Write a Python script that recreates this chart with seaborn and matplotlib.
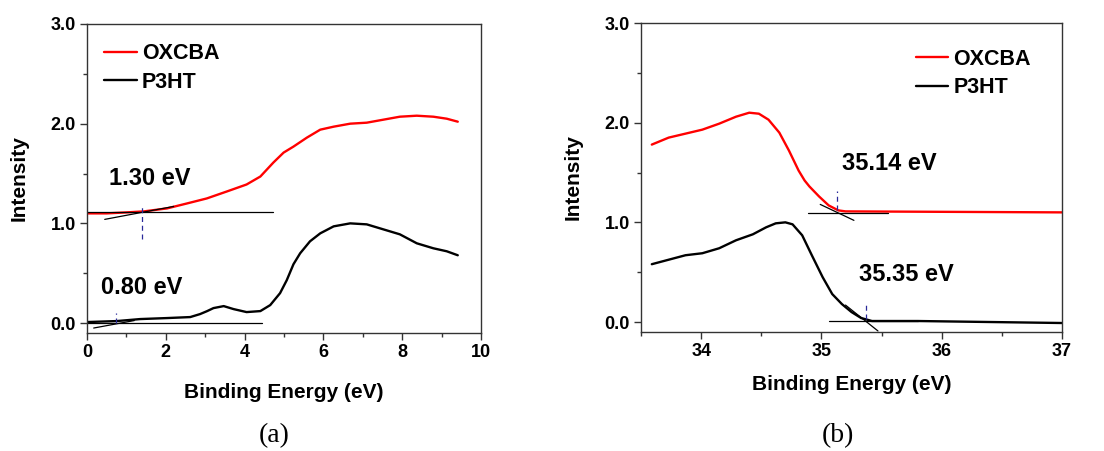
import pandas as pd
import seaborn as sns
import matplotlib.pyplot as plt

# (a) 左图数据：结合能 0-10 eV
a_oxcba_x = [0.0, 0.5, 1.0, 1.44, 2.03, 2.54, 3.04, 3.55, 4.05, 4.40, 4.73, 4.99, 5.24, 5.58, 5.92,
             6.26, 6.68, 7.10, 7.52, 7.94, 8.37, 8.79, 9.13, 9.41]
a_oxcba_y = [1.10, 1.10, 1.11, 1.12, 1.15, 1.20, 1.25, 1.32, 1.39, 1.47, 1.61, 1.71, 1.77, 1.86, 1.94,
             1.97, 2.00, 2.01, 2.04, 2.07, 2.08, 2.07, 2.05, 2.02]
a_p3ht_x = [0.0, 0.76, 1.35, 2.03, 2.62, 2.87, 3.05, 3.21, 3.47, 3.72, 4.05, 4.40, 4.65, 4.90, 5.07,
            5.24, 5.41, 5.66, 5.92, 6.26, 6.68, 7.10, 7.52, 7.94, 8.37, 8.79, 9.13, 9.41]
a_p3ht_y = [0.01, 0.02, 0.04, 0.05, 0.06, 0.09, 0.12, 0.15, 0.17, 0.14, 0.11, 0.12, 0.18, 0.30, 0.43,
            0.59, 0.70, 0.82, 0.90, 0.97, 1.00, 0.99, 0.94, 0.89, 0.80, 0.75, 0.72, 0.68]

# (b) 右图数据：结合能 33.5-37 eV
b_oxcba_x = [33.59, 33.73, 33.87, 34.01, 34.15, 34.29, 34.40, 34.48, 34.56, 34.65, 34.73, 34.81,
             34.86, 34.90, 34.98, 35.06, 35.14, 35.20, 37.0]
b_oxcba_y = [1.78, 1.85, 1.89, 1.93, 1.99, 2.06, 2.10, 2.09, 2.03, 1.90, 1.72, 1.52,
             1.42, 1.36, 1.26, 1.17, 1.12, 1.11, 1.10]
b_p3ht_x = [33.59, 33.87, 34.01, 34.15, 34.29, 34.43, 34.54, 34.62, 34.70, 34.76, 34.84, 34.92,
            35.01, 35.09, 35.17, 35.25, 35.33, 35.42, 35.80, 37.0]
b_p3ht_y = [0.58, 0.67, 0.69, 0.74, 0.82, 0.88, 0.95, 0.99, 1.00, 0.98, 0.87, 0.67,
            0.45, 0.28, 0.18, 0.10, 0.04, 0.01, 0.01, -0.01]

# 切线外推（起点, 终点）
a_fits = [((0.0, 1.11), (4.72, 1.11)), ((0.45, 1.04), (2.2, 1.17)),
          ((0.0, 0.0), (4.44, 0.0)), ((0.17, -0.05), (1.2, 0.025))]
b_fits = [((34.89, 1.09), (35.55, 1.09)), ((34.99, 1.18), (35.27, 1.02)),
          ((35.06, 0.01), (35.80, 0.01)), ((35.20, 0.17), (35.47, -0.09))]
# 蓝色虚线标记
a_marks = [(1.39, 0.84, 1.17), (0.74, 0.0, 0.10)]
b_marks = [(35.13, 1.12, 1.31), (35.37, 0.03, 0.20)]
# 标注文字
a_notes = [("1.30 eV", 0.57, 1.45), ("0.80 eV", 0.36, 0.36)]
b_notes = [("35.14 eV", 35.17, 1.59), ("35.35 eV", 35.31, 0.48)]

sns.set_theme(style="ticks")
plt.rcParams['font.family'] = ['Liberation Sans', 'DejaVu Sans']
plt.rcParams['font.weight'] = 'bold'
plt.rcParams['text.color'] = 'black'
plt.rcParams['axes.labelcolor'] = 'black'
plt.rcParams['xtick.color'] = 'black'
plt.rcParams['ytick.color'] = 'black'
plt.rcParams['xtick.direction'] = 'out'
plt.rcParams['ytick.direction'] = 'out'

fig = plt.figure(figsize=(11.04, 4.51), dpi=100)
ax1 = fig.add_axes([0.0788, 0.2616, 0.3569, 0.6852])
ax2 = fig.add_axes([0.5806, 0.2639, 0.3814, 0.6851])


def draw_panel(ax, ox_x, ox_y, p_x, p_y, fits, marks, notes, xlim, xticks, xminor, leg_anchor,
               tag, tag_x, xpad):
    sns.lineplot(x=ox_x, y=ox_y, ax=ax, color='#ff0000', lw=1.7, label='OXCBA', sort=False)
    sns.lineplot(x=p_x, y=p_y, ax=ax, color='black', lw=1.7, label='P3HT', sort=False)
    for (x0, y0), (x1, y1) in fits:
        ax.plot([x0, x1], [y0, y1], color='black', lw=0.9)
    for xm, y0, y1 in marks:
        ax.plot([xm, xm], [y0, y1], color='#2a2a9a', lw=0.9, ls=(0, (4, 3)))
    for txt, xt, yt in notes:
        ax.text(xt, yt, txt, fontsize=17, fontweight='bold', va='center', ha='left')
    ax.set_xlim(*xlim)
    ax.set_ylim(-0.1, 3.0)
    ax.set_xticks(xticks)
    ax.set_xticks(xminor, minor=True)
    ax.set_yticks([0.0, 1.0, 2.0, 3.0])
    ax.set_yticks([0.5, 1.5, 2.5], minor=True)
    ax.set_yticklabels(['0.0', '1.0', '2.0', '3.0'])
    ax.tick_params(which='major', length=5, width=1, labelsize=13, color='#333333', pad=3)
    ax.tick_params(which='minor', length=3, width=1, color='#333333')
    for lab in ax.get_xticklabels() + ax.get_yticklabels():
        lab.set_fontweight('bold')
    for sp in ax.spines.values():
        sp.set_visible(True)
        sp.set_color('#333333')
        sp.set_linewidth(1.0)
    ax.set_xlabel('Binding Energy (eV)', fontsize=15, fontweight='bold', labelpad=xpad)
    ax.set_ylabel('Intensity', fontsize=15, fontweight='bold', labelpad=16)
    leg = ax.legend(loc='upper left', bbox_to_anchor=leg_anchor, frameon=False, fontsize=15.5,
                    handlelength=1.5, handletextpad=0.25, labelspacing=0.35, borderaxespad=0)
    for t in leg.get_texts():
        t.set_fontweight('bold')
    fig.text(tag_x, 0.035, tag, family=['Liberation Serif', 'DejaVu Serif'], fontsize=20,
             fontweight='normal', ha='center', va='center')


draw_panel(ax1, a_oxcba_x, a_oxcba_y, a_p3ht_x, a_p3ht_y, a_fits, a_marks, a_notes,
           (0, 10), [0, 2, 4, 6, 8, 10], [1, 3, 5, 7, 9], (0.022, 0.965), '(a)', 0.248, 16)
draw_panel(ax2, b_oxcba_x, b_oxcba_y, b_p3ht_x, b_p3ht_y, b_fits, b_marks, b_notes,
           (33.5, 37), [34, 35, 36, 37], [33.5, 34.5, 35.5, 36.5], (0.632, 0.945), '(b)', 0.759, 11)

fig.savefig('out.png', dpi=100)
